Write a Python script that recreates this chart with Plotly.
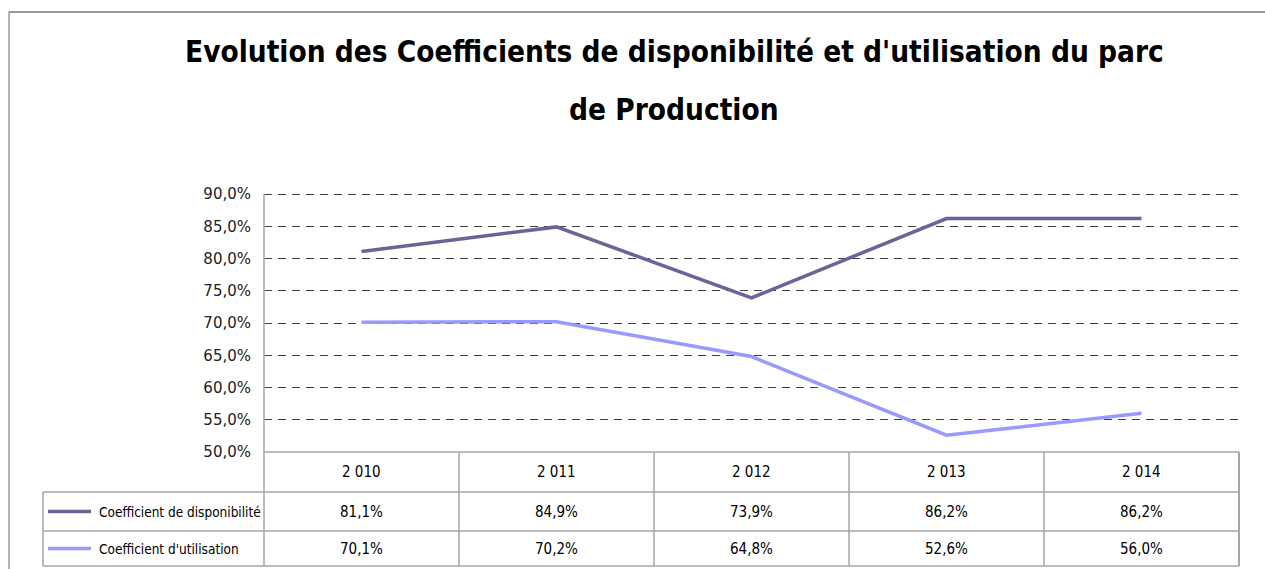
import plotly.graph_objects as go

# ---- data ----
years = [2010, 2011, 2012, 2013, 2014]
disponibilite = [81.1, 84.9, 73.9, 86.2, 86.2]
utilisation = [70.1, 70.2, 64.8, 52.6, 56.0]
series_names = ["Coefficient de disponibilité", "Coefficient d'utilisation"]
title_lines = ["Evolution des Coefficients de disponibilité et d'utilisation du parc",
               "de Production"]
y_ticks = [50, 55, 60, 65, 70, 75, 80, 85, 90]

# ---- layout constants ----
W, H = 1265, 569
def px(x):
    return x / W
def py(y):
    return 1 - y / H

PLOT_L, PLOT_R, PLOT_T, PLOT_B = 264, 1239, 194, 452
ROW1, ROW2, TBL_B = 492, 531, 566
LEG_L = 43
EXTRA = 4  # px of headroom so the top gridline is drawn
Y_MIN, Y_MAX = 50, 90
y_top = Y_MAX + (Y_MAX - Y_MIN) * EXTRA / (PLOT_B - PLOT_T)

NARROW = "Liberation Sans Narrow, DejaVu Sans Condensed, Arial Narrow, sans-serif"
C_DISP = "#666699"
C_UTIL = "#9999FF"
BORDER = "#A6A6A6"

cats = [f"{y // 1000} {y % 1000:03d}" for y in years]
def fmt(v):
    return f"{v:.1f}".replace(".", ",") + "%"

fig = go.Figure()
fig.add_trace(go.Scatter(x=cats, y=disponibilite, mode="lines", name=series_names[0],
                         line=dict(color=C_DISP, width=3.5)))
fig.add_trace(go.Scatter(x=cats, y=utilisation, mode="lines", name=series_names[1],
                         line=dict(color=C_UTIL, width=3.5)))

shapes = []
line_style = dict(color=BORDER, width=1.5)
# outer chart frame (top + left)
shapes.append(dict(type="line", xref="paper", yref="paper", x0=px(9), x1=1, y0=py(12), y1=py(12),
                   line=dict(color="#9A9A9A", width=2)))
shapes.append(dict(type="line", xref="paper", yref="paper", x0=px(9), x1=px(9), y0=py(12), y1=0,
                   line=dict(color="#9A9A9A", width=1.5)))
# y axis line through table
shapes.append(dict(type="line", xref="paper", yref="paper", x0=px(PLOT_L), x1=px(PLOT_L),
                   y0=py(PLOT_T), y1=py(TBL_B), line=line_style))
# horizontal table lines
for yy, x0 in [(PLOT_B, PLOT_L), (ROW1, LEG_L), (ROW2, LEG_L), (TBL_B, LEG_L)]:
    shapes.append(dict(type="line", xref="paper", yref="paper", x0=px(x0), x1=px(PLOT_R),
                       y0=py(yy), y1=py(yy), line=line_style))
# left of legend box
shapes.append(dict(type="line", xref="paper", yref="paper", x0=px(LEG_L), x1=px(LEG_L),
                   y0=py(ROW1), y1=py(TBL_B), line=line_style))
# right border
shapes.append(dict(type="line", xref="paper", yref="paper", x0=px(PLOT_R), x1=px(PLOT_R),
                   y0=py(PLOT_B), y1=py(TBL_B), line=dict(color=BORDER, width=2)))
# column dividers at category boundaries
for i in range(1, len(cats)):
    shapes.append(dict(type="line", xref="x", yref="paper", x0=i - 0.5, x1=i - 0.5,
                       y0=py(PLOT_B), y1=py(TBL_B), line=line_style))
# legend keys
for yy, col in [((ROW1 + ROW2) / 2, C_DISP), ((ROW2 + TBL_B) / 2, C_UTIL)]:
    shapes.append(dict(type="line", xref="paper", yref="paper", x0=px(48), x1=px(91),
                       y0=py(yy), y1=py(yy), line=dict(color=col, width=3.5)))

ann = []
tt_font = dict(family=NARROW, size=29.5, color="black", weight="bold")
ann.append(dict(text=title_lines[0], xref="paper", yref="paper", x=px(674), y=py(52),
                showarrow=False, font=tt_font, xanchor="center", yanchor="middle"))
ann.append(dict(text=title_lines[1], xref="paper", yref="paper", x=px(674), y=py(110),
                showarrow=False, font=tt_font, xanchor="center", yanchor="middle"))
tfont = dict(family=NARROW, size=15, color="black")
for i, c in enumerate(cats):
    ann.append(dict(text=c, xref="x", yref="paper", x=c, y=py((PLOT_B + ROW1) / 2),
                    showarrow=False, font=tfont, yanchor="middle"))
    ann.append(dict(text=fmt(disponibilite[i]), xref="x", yref="paper", x=c,
                    y=py((ROW1 + ROW2) / 2), showarrow=False, font=tfont, yanchor="middle"))
    ann.append(dict(text=fmt(utilisation[i]), xref="x", yref="paper", x=c,
                    y=py((ROW2 + TBL_B) / 2), showarrow=False, font=tfont, yanchor="middle"))
for yy, name in [((ROW1 + ROW2) / 2, series_names[0]), ((ROW2 + TBL_B) / 2, series_names[1])]:
    ann.append(dict(text=name, xref="paper", yref="paper", x=px(97), y=py(yy),
                    showarrow=False, font=dict(family=NARROW, size=13.5, color="black"),
                    xanchor="left", yanchor="middle"))

fig.update_layout(
    width=W, height=H, autosize=False,
    margin=dict(l=0, r=0, t=0, b=0, pad=0),
    paper_bgcolor="white", plot_bgcolor="white",
    showlegend=False,
    shapes=shapes, annotations=ann,
    separators=", ",
    xaxis=dict(domain=[px(PLOT_L), px(PLOT_R)], range=[-0.5, len(cats) - 0.5],
               showticklabels=False, showgrid=False, zeroline=False, showline=False,
               type="category", fixedrange=True, automargin=False),
    yaxis=dict(domain=[py(PLOT_B), py(PLOT_T - EXTRA)], range=[Y_MIN, y_top], tickvals=y_ticks,
               ticktext=[fmt(v) for v in y_ticks], showgrid=True, gridcolor="#404040",
               griddash="8px,6px", gridwidth=1, zeroline=False, showline=False, ticks="",
               ticklabelstandoff=12, automargin=False,
               tickfont=dict(family="DejaVu Sans, Verdana, sans-serif", size=15, color="#222"),
               fixedrange=True),
)

fig.write_html("out.html", config={"displayModeBar": False},
               post_script="document.body.style.margin='0';document.body.style.overflow='hidden';")
